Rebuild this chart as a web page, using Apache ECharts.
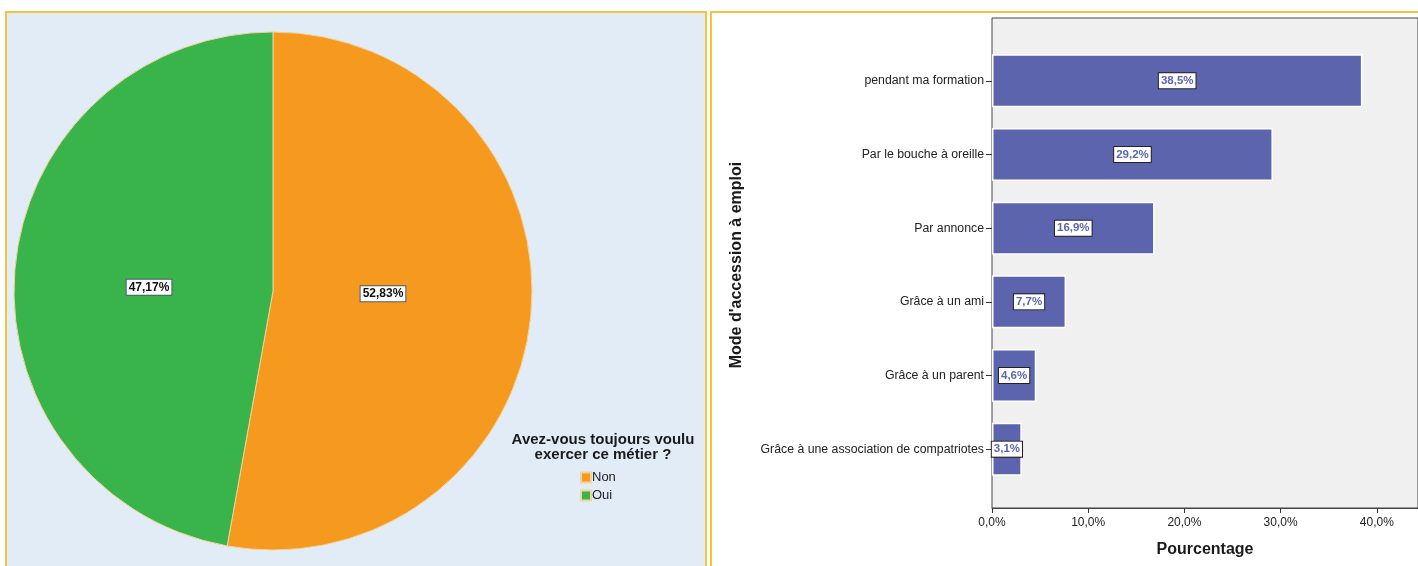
<!DOCTYPE html>
<html>
<head>
<meta charset="utf-8">
<script src="https://cdn.jsdelivr.net/npm/echarts@6/dist/echarts.min.js"></script>
<style>html,body{margin:0;padding:0;background:#fff}#c{width:1418px;height:566px}</style>
</head>
<body>
<div id="c"></div>
<script>
const pieCategories = ['Non', 'Oui'];
const pieValues = [52.83, 47.17];
const pieTitle = 'Avez-vous toujours voulu\nexercer ce métier ?';

const barCategories = ['pendant ma formation', 'Par le bouche à oreille', 'Par annonce', 'Grâce à un ami', 'Grâce à un parent', 'Grâce à une association de compatriotes'];
const barValues = [38.5, 29.2, 16.9, 7.7, 4.6, 3.1];
const xTicks = [0, 10, 20, 30, 40];
const xAxisTitle = 'Pourcentage';
const yAxisTitle = "Mode d'accession à emploi";

const fmt = (v, d) => v.toFixed(d).replace('.', ',') + '%';
const FONT = '"Liberation Sans", Arial, sans-serif';
const BAR = '#5B64AD';
const pieLabelShift = [[-22, -9], [8, 8]];

const chart = echarts.init(document.getElementById('c'), null, {renderer: 'canvas'});
chart.setOption({
  animation: false,
  textStyle: {fontFamily: FONT},
  graphic: [
    {type: 'rect', z: -10, shape: {x: 6, y: 12, width: 700, height: 560}, style: {fill: '#E2ECF7', stroke: '#F7C240', lineWidth: 2}},
    {type: 'rect', z: -10, shape: {x: 711, y: 12, width: 712, height: 560}, style: {fill: '#ffffff', stroke: '#F7C240', lineWidth: 2}}
  ],
  title: {
    text: pieTitle, left: 598, top: 427, textAlign: 'center',
    textStyle: {fontFamily: FONT, fontSize: 15, fontWeight: 'bold', color: '#1a1a1a', lineHeight: 15}
  },
  legend: {
    data: pieCategories, orient: 'vertical', left: 575, top: 466, icon: 'rect',
    itemWidth: 10, itemHeight: 10, itemGap: 5,
    textStyle: {fontFamily: FONT, fontSize: 13, color: '#222', padding: [0, 0, 0, -4]}
  },
  grid: [
    {left: 992, right: 0, top: 18, bottom: 58, show: true, backgroundColor: '#F0F0F0', borderColor: '#444', borderWidth: 1},
    {left: 992, right: 0, top: 44, bottom: 80}
  ],
  xAxis: [
    {gridIndex: 0, type: 'value', show: false},
    {
      gridIndex: 1, type: 'value', min: 0, max: 44.28, interval: 10, offset: 22,
      axisLine: {show: true, lineStyle: {color: '#444'}},
      axisTick: {show: true, length: 5, lineStyle: {color: '#333'}},
      splitLine: {show: false},
      axisLabel: {
        showMaxLabel: false, fontSize: 12, color: '#222', margin: 9,
        formatter: v => xTicks.includes(v) ? fmt(v, 1) : ''
      },
      name: xAxisTitle, nameLocation: 'middle', nameGap: 34,
      nameTextStyle: {fontFamily: FONT, fontSize: 16, fontWeight: 'bold', color: '#1a1a1a'}
    }
  ],
  yAxis: [
    {gridIndex: 0, type: 'value', show: false},
    {
      gridIndex: 1, type: 'category', data: barCategories, inverse: true,
      axisLine: {show: false},
      axisTick: {show: true, alignWithLabel: true, length: 6, lineStyle: {color: '#333'}},
      axisLabel: {fontSize: 12.3, color: '#222', margin: 8},
      name: yAxisTitle, nameLocation: 'middle', nameRotate: 90, nameGap: 247,
      nameTextStyle: {fontFamily: FONT, fontSize: 16, fontWeight: 'bold', color: '#1a1a1a'}
    }
  ],
  series: [
    {
      type: 'pie', center: [273, 291], radius: 259, startAngle: 90, clockwise: true,
      data: pieCategories.map((n, i) => ({name: n, value: pieValues[i]})),
      color: ['#F5991F', '#39B44A'],
      itemStyle: {borderColor: '#F2D39A', borderWidth: 1},
      label: {
        position: 'inner', formatter: p => fmt(p.value, 2),
        fontFamily: FONT, fontSize: 12, fontWeight: 'bold', color: '#111',
        backgroundColor: '#fff', borderColor: '#4a5a70', borderWidth: 1, padding: [2, 2, 1, 2]
      },
      labelLayout: p => ({dx: pieLabelShift[p.dataIndex][0], dy: pieLabelShift[p.dataIndex][1]}),
      labelLine: {show: false},
      emphasis: {disabled: true}
    },
    {
      type: 'bar', xAxisIndex: 1, yAxisIndex: 1, data: barValues, barCategoryGap: '28%',
      itemStyle: {color: BAR, borderColor: '#ffffff', borderWidth: 1.5},
      label: {
        show: true, position: 'inside', formatter: p => fmt(p.value, 1),
        fontFamily: FONT, fontSize: 11.5, fontWeight: 'bold', color: BAR,
        backgroundColor: '#fff', borderColor: '#222', borderWidth: 1, padding: [2, 2, 1, 2]
      },
      emphasis: {disabled: true}
    }
  ]
});
</script>
</body>
</html>
